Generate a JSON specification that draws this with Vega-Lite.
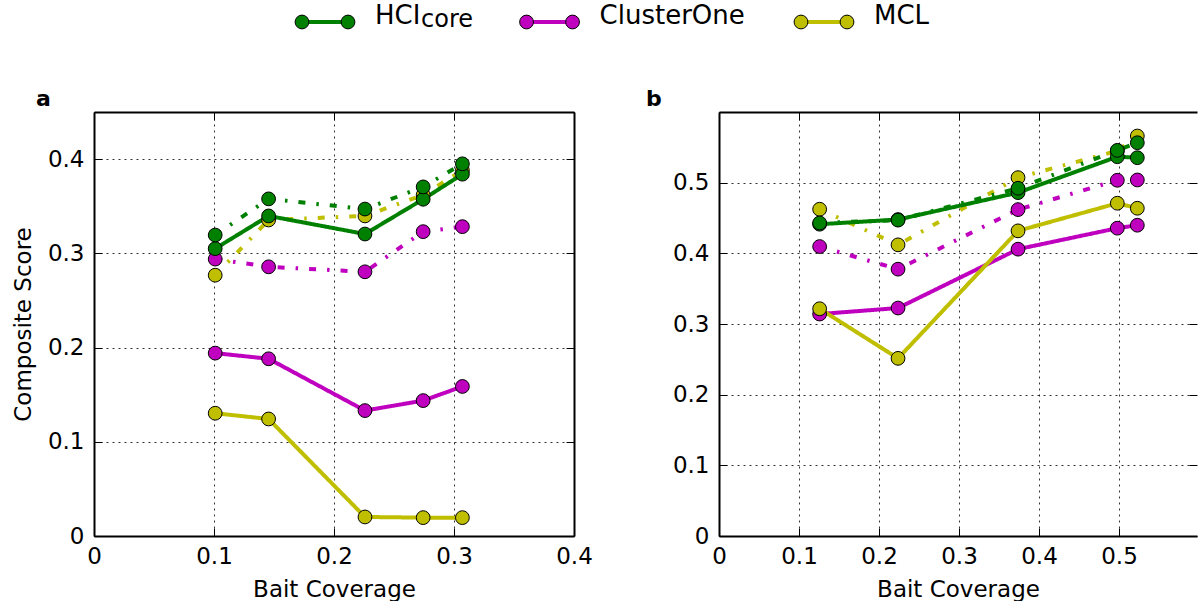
{
  "$schema": "https://vega.github.io/schema/vega-lite/v6.json",
  "padding": {"left": 12, "top": 0, "right": 0, "bottom": 0},
  "background": "white",
  "bounds": "flush",
  "spacing": 68,
  "datasets": {
    "legend": [
      {"series": "HCIcore", "label": "HCI", "sub": "core"},
      {"series": "ClusterOne", "label": "ClusterOne", "sub": ""},
      {"series": "MCL", "label": "MCL", "sub": ""}
    ],
    "scores": [
      {"panel": "a", "series": "ClusterOne", "style": "solid", "x": 0.101, "y": 0.1941},
      {"panel": "a", "series": "ClusterOne", "style": "solid", "x": 0.1455, "y": 0.1881},
      {"panel": "a", "series": "ClusterOne", "style": "solid", "x": 0.2258, "y": 0.1331},
      {"panel": "a", "series": "ClusterOne", "style": "solid", "x": 0.2743, "y": 0.1437},
      {"panel": "a", "series": "ClusterOne", "style": "solid", "x": 0.307, "y": 0.1587},
      {"panel": "a", "series": "ClusterOne", "style": "dashed", "x": 0.101, "y": 0.2939},
      {"panel": "a", "series": "ClusterOne", "style": "dashed", "x": 0.1455, "y": 0.2857},
      {"panel": "a", "series": "ClusterOne", "style": "dashed", "x": 0.2258, "y": 0.2804},
      {"panel": "a", "series": "ClusterOne", "style": "dashed", "x": 0.2743, "y": 0.323},
      {"panel": "a", "series": "ClusterOne", "style": "dashed", "x": 0.307, "y": 0.3283},
      {"panel": "a", "series": "MCL", "style": "solid", "x": 0.101, "y": 0.1303},
      {"panel": "a", "series": "MCL", "style": "solid", "x": 0.1455, "y": 0.1242},
      {"panel": "a", "series": "MCL", "style": "solid", "x": 0.2258, "y": 0.0202},
      {"panel": "a", "series": "MCL", "style": "solid", "x": 0.2743, "y": 0.0195},
      {"panel": "a", "series": "MCL", "style": "solid", "x": 0.307, "y": 0.0195},
      {"panel": "a", "series": "MCL", "style": "dashed", "x": 0.101, "y": 0.2768},
      {"panel": "a", "series": "MCL", "style": "dashed", "x": 0.1455, "y": 0.3354},
      {"panel": "a", "series": "MCL", "style": "dashed", "x": 0.2258, "y": 0.3397},
      {"panel": "a", "series": "MCL", "style": "dashed", "x": 0.2743, "y": 0.362},
      {"panel": "a", "series": "MCL", "style": "dashed", "x": 0.307, "y": 0.388},
      {"panel": "a", "series": "HCIcore", "style": "solid", "x": 0.101, "y": 0.305},
      {"panel": "a", "series": "HCIcore", "style": "solid", "x": 0.1455, "y": 0.3397},
      {"panel": "a", "series": "HCIcore", "style": "solid", "x": 0.2258, "y": 0.3205},
      {"panel": "a", "series": "HCIcore", "style": "solid", "x": 0.2743, "y": 0.3574},
      {"panel": "a", "series": "HCIcore", "style": "solid", "x": 0.307, "y": 0.384},
      {"panel": "a", "series": "HCIcore", "style": "dashed", "x": 0.101, "y": 0.3194},
      {"panel": "a", "series": "HCIcore", "style": "dashed", "x": 0.1455, "y": 0.3578},
      {"panel": "a", "series": "HCIcore", "style": "dashed", "x": 0.2258, "y": 0.347},
      {"panel": "a", "series": "HCIcore", "style": "dashed", "x": 0.2743, "y": 0.3705},
      {"panel": "a", "series": "HCIcore", "style": "dashed", "x": 0.307, "y": 0.395},
      {"panel": "b", "series": "ClusterOne", "style": "solid", "x": 0.1258, "y": 0.3141},
      {"panel": "b", "series": "ClusterOne", "style": "solid", "x": 0.2238, "y": 0.3226},
      {"panel": "b", "series": "ClusterOne", "style": "solid", "x": 0.3738, "y": 0.4059},
      {"panel": "b", "series": "ClusterOne", "style": "solid", "x": 0.4979, "y": 0.4356},
      {"panel": "b", "series": "ClusterOne", "style": "solid", "x": 0.5229, "y": 0.4398},
      {"panel": "b", "series": "ClusterOne", "style": "dashed", "x": 0.1258, "y": 0.4096},
      {"panel": "b", "series": "ClusterOne", "style": "dashed", "x": 0.2238, "y": 0.3776},
      {"panel": "b", "series": "ClusterOne", "style": "dashed", "x": 0.3738, "y": 0.4619},
      {"panel": "b", "series": "ClusterOne", "style": "dashed", "x": 0.4979, "y": 0.5034},
      {"panel": "b", "series": "ClusterOne", "style": "dashed", "x": 0.5229, "y": 0.5038},
      {"panel": "b", "series": "MCL", "style": "solid", "x": 0.1258, "y": 0.3216},
      {"panel": "b", "series": "MCL", "style": "solid", "x": 0.2238, "y": 0.2514},
      {"panel": "b", "series": "MCL", "style": "solid", "x": 0.3738, "y": 0.4318},
      {"panel": "b", "series": "MCL", "style": "solid", "x": 0.4979, "y": 0.4709},
      {"panel": "b", "series": "MCL", "style": "solid", "x": 0.5229, "y": 0.4638},
      {"panel": "b", "series": "MCL", "style": "dashed", "x": 0.1258, "y": 0.4624},
      {"panel": "b", "series": "MCL", "style": "dashed", "x": 0.2238, "y": 0.412},
      {"panel": "b", "series": "MCL", "style": "dashed", "x": 0.3738, "y": 0.5071},
      {"panel": "b", "series": "MCL", "style": "dashed", "x": 0.4979, "y": 0.545},
      {"panel": "b", "series": "MCL", "style": "dashed", "x": 0.5229, "y": 0.566},
      {"panel": "b", "series": "HCIcore", "style": "solid", "x": 0.1258, "y": 0.4412},
      {"panel": "b", "series": "HCIcore", "style": "solid", "x": 0.2238, "y": 0.4478},
      {"panel": "b", "series": "HCIcore", "style": "solid", "x": 0.3738, "y": 0.4859},
      {"panel": "b", "series": "HCIcore", "style": "solid", "x": 0.4979, "y": 0.5367},
      {"panel": "b", "series": "HCIcore", "style": "solid", "x": 0.5229, "y": 0.5353},
      {"panel": "b", "series": "HCIcore", "style": "dashed", "x": 0.1258, "y": 0.443},
      {"panel": "b", "series": "HCIcore", "style": "dashed", "x": 0.2238, "y": 0.447},
      {"panel": "b", "series": "HCIcore", "style": "dashed", "x": 0.3738, "y": 0.4921},
      {"panel": "b", "series": "HCIcore", "style": "dashed", "x": 0.4979, "y": 0.5457},
      {"panel": "b", "series": "HCIcore", "style": "dashed", "x": 0.5229, "y": 0.5565}
    ]
  },
  "config": {
    "font": "DejaVu Sans",
    "view": {"stroke": null},
    "axis": {
      "labelFont": "DejaVu Sans", "labelFontSize": 23, "labelColor": "black",
      "titleFont": "DejaVu Sans", "titleFontSize": 23, "titleFontWeight": "normal", "titleColor": "black",
      "domainColor": "black", "domainWidth": 2,
      "tickColor": "black", "tickWidth": 1, "tickSize": -8,
      "gridColor": "black", "gridDash": [2, 4], "gridWidth": 1, "gridOpacity": 0.8,
      "labelOverlap": false, "labelFlush": false
    },
    "axisX": {"labelPadding": 17, "titlePadding": 10},
    "axisY": {"labelPadding": 18, "titlePadding": 12},
    "title": {"font": "DejaVu Sans", "fontSize": 22, "fontWeight": "bold", "color": "black", "anchor": "start", "frame": "group"}
  },
  "vconcat": [
    {
      "data": {"name": "legend"},
      "width": 1103,
      "height": 44,
      "encoding": {
        "x": {"field": "series", "type": "nominal", "scale": {"type": "point", "domain": ["HCIcore", "s1", "s2", "s3", "s4", "s5", "s6", "s7", "s8", "ClusterOne", "s10", "s11", "s12", "s13", "s14", "s15", "s16", "s17", "s18", "s19", "MCL"], "range": [231, 730], "padding": 0}, "axis": null},
        "color": {"field": "series", "type": "nominal", "scale": {"domain": ["HCIcore", "ClusterOne", "MCL"], "range": ["#008000", "#bf00bf", "#bfbf00"]}, "legend": null}
      },
      "layer": [
        {"mark": {"type": "tick", "orient": "horizontal", "size": 46, "thickness": 4, "opacity": 1}},
        {"mark": {"type": "point", "filled": true, "size": 190, "stroke": "black", "strokeWidth": 1, "opacity": 1, "xOffset": -23}},
        {"mark": {"type": "point", "filled": true, "size": 190, "stroke": "black", "strokeWidth": 1, "opacity": 1, "xOffset": 23}},
        {"mark": {"type": "text", "align": "left", "baseline": "alphabetic", "dx": 50, "dy": 2, "fontSize": 26}, "encoding": {"text": {"field": "label"}, "color": {"value": "black"}}},
        {"transform": [{"filter": "datum.sub != ''"}], "mark": {"type": "text", "align": "left", "baseline": "alphabetic", "dx": 96, "dy": 5, "fontSize": 24}, "encoding": {"text": {"field": "sub"}, "color": {"value": "black"}}}
      ]
    },
    {
      "hconcat": [
        {
          "width": 480,
          "height": 424,
          "title": {"text": "a", "dx": -58, "offset": -16, "baseline": "alphabetic"},
          "data": {"name": "scores"},
          "transform": [{"filter": "datum.panel == 'a'"}],
          "layer": [
            {
              "encoding": {
                "x": {"field": "x", "type": "quantitative", "scale": {"domain": [0, 0.4], "nice": false, "zero": false}, "axis": {"values": [0, 0.1, 0.2, 0.3, 0.4], "labelExpr": "datum.value == 0 ? '0' : format(datum.value, '.1f')", "title": "Bait Coverage", "grid": true}},
                "y": {"field": "y", "type": "quantitative", "scale": {"domain": [0, 0.45], "nice": false, "zero": false}, "axis": {"values": [0, 0.1, 0.2, 0.3, 0.4], "labelExpr": "datum.value == 0 ? '0' : format(datum.value, '.1f')", "title": "Composite Score", "grid": true}},
                "color": {"field": "series", "type": "nominal", "scale": {"domain": ["HCIcore", "ClusterOne", "MCL"], "range": ["#008000", "#bf00bf", "#bfbf00"]}, "legend": null}
              },
              "layer": [
                {"mark": {"type": "line", "strokeWidth": 4, "strokeCap": "butt"}, "encoding": {"strokeDash": {"field": "style", "type": "nominal", "scale": {"domain": ["solid", "dashed"], "range": [[1, 0], [7, 11, 2.5, 11]]}, "legend": null}}},
                {"mark": {"type": "point", "filled": true, "size": 190, "stroke": "black", "strokeWidth": 1, "opacity": 1}}
              ]
            },
            {
              "mark": {"type": "point", "opacity": 0},
              "encoding": {
                "x": {"field": "x", "type": "quantitative", "axis": {"orient": "top", "values": [0, 0.1, 0.2, 0.3, 0.4], "labels": false, "title": null, "grid": false}},
                "y": {"field": "y", "type": "quantitative", "axis": {"orient": "right", "values": [0, 0.1, 0.2, 0.3, 0.4], "labels": false, "title": null, "grid": false}}
              }
            }
          ],
          "resolve": {"axis": {"x": "independent", "y": "independent"}}
        },
        {
          "width": 478,
          "height": 424,
          "title": {"text": "b", "dx": -73, "offset": -16, "baseline": "alphabetic"},
          "data": {"name": "scores"},
          "transform": [{"filter": "datum.panel == 'b'"}],
          "layer": [
            {
              "encoding": {
                "x": {"field": "x", "type": "quantitative", "scale": {"domain": [0, 0.5975], "nice": false, "zero": false}, "axis": {"values": [0, 0.1, 0.2, 0.3, 0.4, 0.5], "labelExpr": "datum.value == 0 ? '0' : format(datum.value, '.1f')", "title": "Bait Coverage", "grid": true}},
                "y": {"field": "y", "type": "quantitative", "scale": {"domain": [0, 0.6], "nice": false, "zero": false}, "axis": {"values": [0, 0.1, 0.2, 0.3, 0.4, 0.5], "labelExpr": "datum.value == 0 ? '0' : format(datum.value, '.1f')", "title": null, "grid": true}},
                "color": {"field": "series", "type": "nominal", "scale": {"domain": ["HCIcore", "ClusterOne", "MCL"], "range": ["#008000", "#bf00bf", "#bfbf00"]}, "legend": null}
              },
              "layer": [
                {"mark": {"type": "line", "strokeWidth": 4, "strokeCap": "butt"}, "encoding": {"strokeDash": {"field": "style", "type": "nominal", "scale": {"domain": ["solid", "dashed"], "range": [[1, 0], [7, 11, 2.5, 11]]}, "legend": null}}},
                {"mark": {"type": "point", "filled": true, "size": 190, "stroke": "black", "strokeWidth": 1, "opacity": 1}}
              ]
            },
            {
              "mark": {"type": "point", "opacity": 0},
              "encoding": {
                "x": {"field": "x", "type": "quantitative", "axis": {"orient": "top", "values": [0, 0.1, 0.2, 0.3, 0.4, 0.5], "labels": false, "title": null, "grid": false}},
                "y": {"field": "y", "type": "quantitative", "axis": {"orient": "right", "values": [0, 0.1, 0.2, 0.3, 0.4, 0.5], "labels": false, "title": null, "grid": false, "domain": false}}
              }
            }
          ],
          "resolve": {"axis": {"x": "independent", "y": "independent"}}
        }
      ],
      "spacing": 145,
      "bounds": "flush"
    }
  ]
}
